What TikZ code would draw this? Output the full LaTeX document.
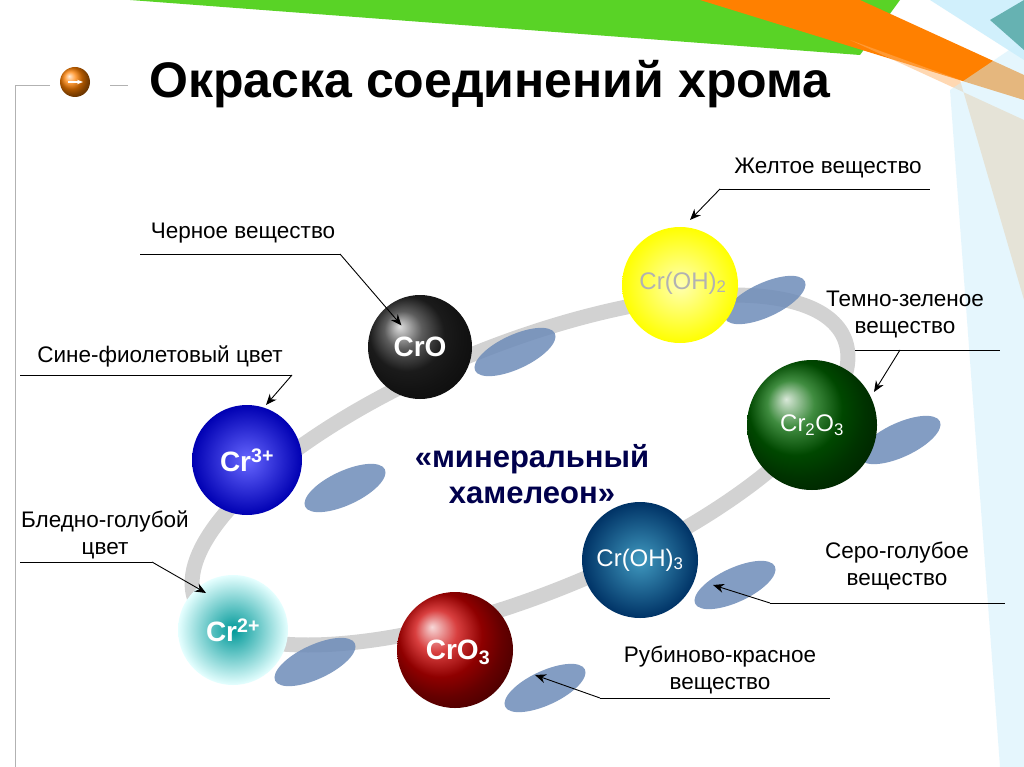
\documentclass[tikz,border=0pt]{standalone}
\usepackage{fontspec}
\setmainfont{Liberation Sans}
\usetikzlibrary{arrows.meta}
\definecolor{shadc}{RGB}{110,140,185}
\begin{document}
\begin{tikzpicture}[x=1pt,y=-1pt,
 lbl/.style={font=\fontsize{22.5}{27}\selectfont,align=center},
 ann/.style={draw=black,line width=0.8pt},
 arr/.style={draw=black,line width=0.9pt,-{Stealth[length=11pt,width=9pt]}},
 ball/.style={circle,inner sep=0pt,font=\bfseries\fontsize{28}{28}\selectfont,text=white},
 shad/.style={fill=shadc,opacity=0.85}]
\useasboundingbox (0,0) rectangle (1024,767);
\fill[white] (0,0) rectangle (1024,767);
% decorations top right
\fill[green!70!yellow!80!black,opacity=0.85] (130,0) -- (900,0) -- (860,55) -- cycle;
\fill[orange] (700,0) -- (860,0) -- (1024,75) -- (1024,100) -- cycle;
\fill[orange!60,opacity=0.5] (850,40) -- (1024,120) -- (1024,300) -- (960,80) -- cycle;
\fill[cyan!30,opacity=0.6] (930,0) -- (1024,0) -- (1024,60) -- cycle;
\fill[cyan!20,opacity=0.5] (950,90) -- (1024,40) -- (1024,767) -- (1000,767) -- cycle;
\fill[teal!60] (990,20) -- (1024,0) -- (1024,50) -- cycle;
% frame
\draw[gray!60,line width=0.8pt] (15,767) -- (15,85) -- (50,85);
\draw[gray!60,line width=0.8pt] (110,85) -- (128,85);
% icon
\shade[ball color=orange] (75,82) circle (15);
\draw[white,line width=2pt,-{Stealth[length=6pt]}] (68,82) -- (83,82);
\node[font=\bfseries\fontsize{50}{50}\selectfont] (title) at (490,84) {Окраска соединений хрома};
% ring
\draw[gray!35,line width=15pt,rotate around={22:(520,470)}] (520,470) ellipse (350 and 125);
% shadows
\foreach \x/\y in {515/352,765/300,900/440,345/488,315/662,545/688,735/585}
  \fill[shad,rotate around={25:(\x,\y)}] (\x,\y) ellipse (44 and 17);
% balls
\shade[ball color=black!85] (420,347) circle (52);
\node[ball] (cro) at (420,347) {CrO};
\shade[inner color=yellow!30!white,outer color=yellow] (680,285) circle (58);
\node[ball,text=gray!60!white,font=\fontsize{24}{24}\selectfont] (oh2) at (683,283) {Cr(OH)\textsubscript{2}};
\shade[ball color=green!40!black] (812,425) circle (65);
\node[ball,font=\fontsize{24}{24}\selectfont] (cr2o3) at (812,425) {Cr\textsubscript{2}O\textsubscript{3}};
\shade[inner color=blue!30!cyan!50!gray,outer color=blue!50!cyan!40!black] (640,560) circle (58);
\node[ball,font=\fontsize{24}{24}\selectfont] (oh3) at (640,560) {Cr(OH)\textsubscript{3}};
\shade[ball color=red!80!black] (455,650) circle (58);
\node[ball] (cro3) at (458,652) {CrO\textsubscript{3}};
\shade[inner color=cyan!60!black,outer color=cyan!10] (233,630) circle (55);
\node[ball] (cr2) at (233,630) {Cr\textsuperscript{2+}};
\shade[inner color=blue!60!white,outer color=blue!70!black] (247,460) circle (55);
\node[ball] (cr3) at (247,460) {Cr\textsuperscript{3+}};
% center text
\node[font=\bfseries\fontsize{31}{36}\selectfont,text=blue!30!black,align=center] (cen) at (532,474) {«минеральный\\хамелеон»};
% annotations
\node[lbl] (l1) at (243,233) {Черное вещество};
\coordinate (a1) at (140,254); \coordinate (b1) at (340,254);
\draw[ann] (a1) -- (b1); \draw[arr] (b1) -- (cro);
\node[lbl] (l2) at (828,168) {Желтое вещество};
\coordinate (a2) at (720,189); \coordinate (b2) at (930,189);
\draw[ann] (a2) -- (b2); \draw[arr] (a2) -- (690,220);
\node[lbl,align=center] (l3) at (905,314) {Темно-зеленое\\вещество};
\coordinate (a3) at (855,350); \coordinate (b3) at (1000,350);
\draw[ann] (a3) -- (b3); \draw[arr] (900,350) -- (874,392);
\node[lbl] (l4) at (160,356) {Сине-фиолетовый цвет};
\coordinate (a4) at (20,375); \coordinate (b4) at (292,375);
\draw[ann] (a4) -- (b4); \draw[arr] (b4) -- (266,405);
\node[lbl,align=center] (l5) at (105,535) {Бледно-голубой\\цвет};
\coordinate (a5) at (20,562); \coordinate (b5) at (152,562);
\draw[ann] (a5) -- (b5); \draw[arr] (b5) -- (206,593);
\node[lbl,align=center] (l6) at (897,566) {Серо-голубое\\вещество};
\coordinate (a6) at (770,603); \coordinate (b6) at (1005,603);
\draw[ann] (a6) -- (b6); \draw[arr] (a6) -- (713,585);
\node[lbl,align=center] (l7) at (720,670) {Рубиново-красное\\вещество};
\coordinate (a7) at (600,698); \coordinate (b7) at (830,698);
\draw[ann] (a7) -- (b7); \draw[arr] (a7) -- (535,675);
\end{tikzpicture}
\end{document}
